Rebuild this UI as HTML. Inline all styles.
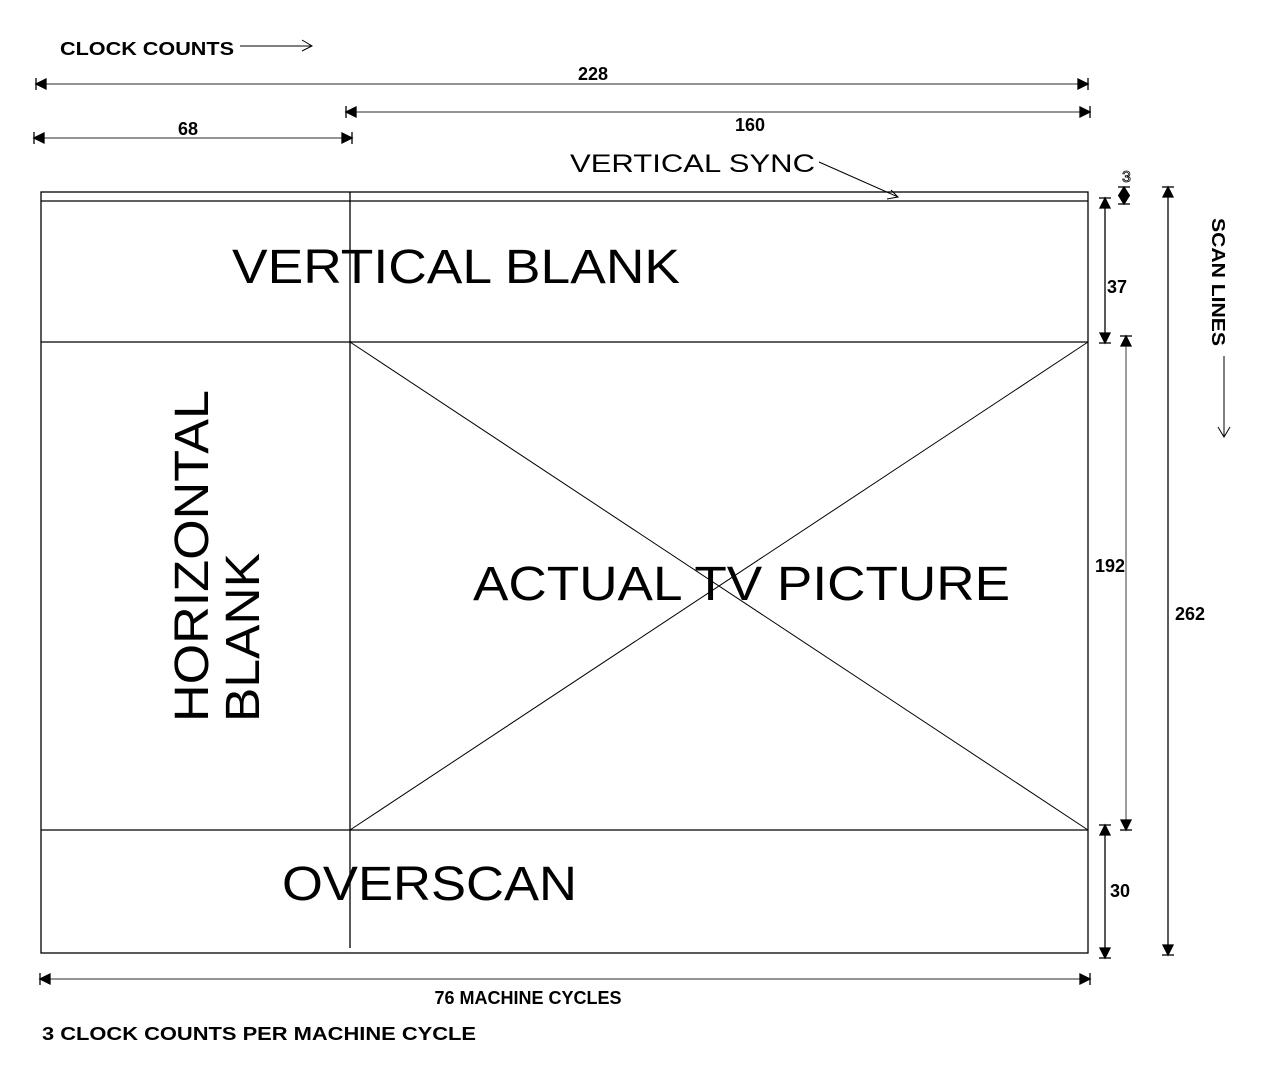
<!DOCTYPE html>
<html><head><meta charset="utf-8"><style>html,body{margin:0;padding:0;background:#fff}svg{display:block}</style></head>
<body>
<svg width="1262" height="1069" xmlns="http://www.w3.org/2000/svg" font-family="Liberation Sans, Arial, sans-serif">
<g stroke="#000" stroke-width="1.3" fill="none">
<rect x="41" y="192" width="1047" height="761"/>
<line x1="41" y1="201" x2="1088" y2="201"/>
<line x1="41" y1="342" x2="1088" y2="342"/>
<line x1="41" y1="830" x2="1088" y2="830"/>
<line x1="350" y1="192" x2="350" y2="948"/>
<line x1="350" y1="342" x2="1088" y2="830" stroke-width="1"/>
<line x1="350" y1="830" x2="1088" y2="342" stroke-width="1"/>
</g>
<g stroke="#000" stroke-width="1.3" fill="#000">
<!-- 228 -->
<line x1="36" y1="84" x2="1088" y2="84" stroke="#555"/>
<polygon points="36,84 46,79 46,89"/><line x1="36" y1="78" x2="36" y2="90"/>
<polygon points="1088,84 1078,79 1078,89"/><line x1="1088" y1="78" x2="1088" y2="90"/>
<!-- 160 -->
<line x1="346" y1="112" x2="1090" y2="112" stroke="#555"/>
<polygon points="346,112 356,107 356,117"/><line x1="346" y1="106" x2="346" y2="118"/>
<polygon points="1090,112 1080,107 1080,117"/><line x1="1090" y1="106" x2="1090" y2="118"/>
<!-- 68 -->
<line x1="34" y1="138" x2="352" y2="138" stroke="#555"/>
<polygon points="34,138 44,133 44,143"/><line x1="34" y1="132" x2="34" y2="144"/>
<polygon points="352,138 342,133 342,143"/><line x1="352" y1="132" x2="352" y2="144"/>
<!-- 76 -->
<line x1="40" y1="979" x2="1090" y2="979" stroke="#555"/>
<polygon points="40,979 50,974 50,984"/><line x1="40" y1="973" x2="40" y2="985"/>
<polygon points="1090,979 1080,974 1080,984"/><line x1="1090" y1="973" x2="1090" y2="985"/>
<!-- 37 -->
<line x1="1105" y1="198" x2="1105" y2="343"/>
<polygon points="1105,198 1100,208 1110,208"/><line x1="1099" y1="198" x2="1111" y2="198"/>
<polygon points="1105,343 1100,333 1110,333"/><line x1="1099" y1="343" x2="1111" y2="343"/>
<!-- 3 -->
<polygon points="1124,187 1119,195 1129,195"/><line x1="1118" y1="187" x2="1130" y2="187"/>
<polygon points="1124,204 1119,196 1129,196"/><line x1="1118" y1="204" x2="1130" y2="204"/>
<!-- 192 -->
<line x1="1126" y1="336" x2="1126" y2="830" stroke="#666"/>
<polygon points="1126,336 1121,346 1131,346"/><line x1="1120" y1="336" x2="1132" y2="336"/>
<polygon points="1126,830 1121,820 1131,820"/><line x1="1120" y1="830" x2="1132" y2="830"/>
<!-- 30 -->
<line x1="1105" y1="825" x2="1105" y2="958"/>
<polygon points="1105,825 1100,835 1110,835"/><line x1="1099" y1="825" x2="1111" y2="825"/>
<polygon points="1105,958 1100,948 1110,948"/><line x1="1099" y1="958" x2="1111" y2="958"/>
<!-- 262 -->
<line x1="1168" y1="187" x2="1168" y2="955"/>
<polygon points="1168,187 1163,197 1173,197"/><line x1="1162" y1="187" x2="1174" y2="187"/>
<polygon points="1168,955 1163,945 1173,945"/><line x1="1162" y1="955" x2="1174" y2="955"/>
</g>
<g stroke="#000" stroke-width="1" fill="none">
<line x1="240" y1="46" x2="312" y2="46"/><polyline points="302,40 312,46 302,51"/>
<line x1="819" y1="162" x2="898" y2="197"/><polyline points="887,199 898,197 891,190"/>
<line x1="1224" y1="356" x2="1224" y2="437"/><polyline points="1218,427 1224,437 1230,427"/>
</g>
<g fill="#000" font-weight="bold" font-size="18">
<text x="60" y="55" textLength="174" lengthAdjust="spacingAndGlyphs">CLOCK COUNTS</text>
<text x="593" y="80" text-anchor="middle">228</text>
<text x="750" y="131" text-anchor="middle">160</text>
<text x="188" y="135" text-anchor="middle">68</text>
<text x="1107" y="293">37</text>
<text x="1095" y="572">192</text>
<text x="1175" y="620">262</text>
<text x="1110" y="897">30</text>
<text x="528" y="1004" text-anchor="middle">76 MACHINE CYCLES</text>
<text x="42" y="1040" textLength="434" lengthAdjust="spacingAndGlyphs">3 CLOCK COUNTS PER MACHINE CYCLE</text>
<text transform="translate(1212,218) rotate(90)" textLength="128" lengthAdjust="spacingAndGlyphs">SCAN LINES</text>
</g>
<text x="1122" y="182" font-size="16" fill="#fff" stroke="#000" stroke-width="0.8">3</text>
<g fill="#000">
<text x="570" y="172" font-size="25" textLength="245" lengthAdjust="spacingAndGlyphs">VERTICAL SYNC</text>
<text x="232" y="283" font-size="48" textLength="448" lengthAdjust="spacingAndGlyphs">VERTICAL BLANK</text>
<text x="473" y="600" font-size="48" textLength="537" lengthAdjust="spacingAndGlyphs">ACTUAL TV PICTURE</text>
<text x="282" y="900" font-size="48" textLength="295" lengthAdjust="spacingAndGlyphs">OVERSCAN</text>
<text transform="translate(208,722) rotate(-90)" font-size="48" textLength="332" lengthAdjust="spacingAndGlyphs">HORIZONTAL</text>
<text transform="translate(259,722) rotate(-90)" font-size="48" textLength="169" lengthAdjust="spacingAndGlyphs">BLANK</text>
</g>
</svg>
</body></html>
